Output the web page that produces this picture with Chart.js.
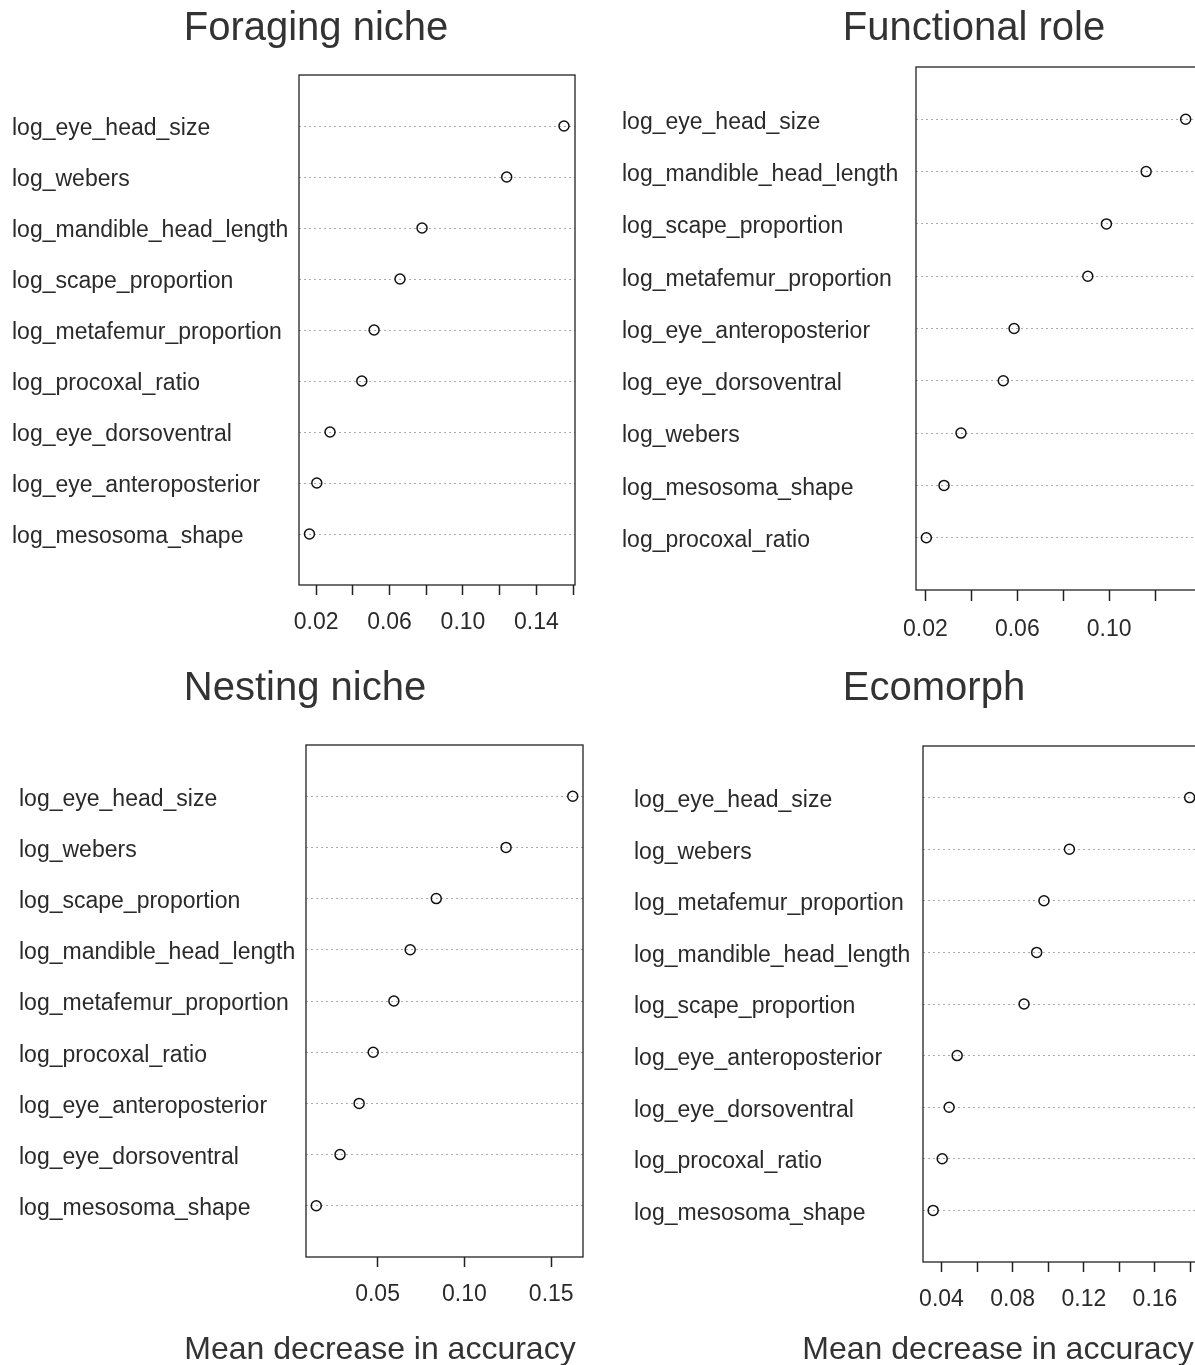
<!DOCTYPE html>
<html>
<head>
<meta charset="utf-8">
<script src="https://cdn.jsdelivr.net/npm/chart.js@4.4.1/dist/chart.umd.min.js"></script>
<style>
  html, body { margin: 0; padding: 0; width: 1195px; height: 1365px; overflow: hidden; background: #fff; }
  .panel { position: absolute; }
  .caption {
    position: absolute; top: 1329px; transform: translateX(-50%); white-space: nowrap;
    font-family: "Liberation Sans", Arial, sans-serif; font-size: 32px; color: #333; line-height: 38px;
  }
</style>
</head>
<body>
<div class="panel" style="left:12px;top:0px;width:608px;height:655px"><canvas id="foraging"></canvas></div>
<div class="panel" style="left:622px;top:0px;width:704px;height:660px"><canvas id="functional"></canvas></div>
<div class="panel" style="left:19px;top:640px;width:572px;height:687px"><canvas id="nesting"></canvas></div>
<div class="panel" style="left:634px;top:640px;width:600px;height:692px"><canvas id="ecomorph"></canvas></div>
<div class="caption" style="left:380px">Mean decrease in accuracy</div>
<div class="caption" style="left:998px">Mean decrease in accuracy</div>

<script>
// variables listed top to bottom, as in each panel
const foragingVars = ["log_eye_head_size", "log_webers", "log_mandible_head_length", "log_scape_proportion",
  "log_metafemur_proportion", "log_procoxal_ratio", "log_eye_dorsoventral", "log_eye_anteroposterior", "log_mesosoma_shape"];
const foragingValues = [0.155, 0.1238, 0.0777, 0.0657, 0.0516, 0.0449, 0.0276, 0.0204, 0.0164];
const foragingTicks = [0.02, 0.04, 0.06, 0.08, 0.10, 0.12, 0.14, 0.16];
const foragingTickLabels = ["0.02", "", "0.06", "", "0.10", "", "0.14", ""];

const functionalVars = ["log_eye_head_size", "log_mandible_head_length", "log_scape_proportion", "log_metafemur_proportion",
  "log_eye_anteroposterior", "log_eye_dorsoventral", "log_webers", "log_mesosoma_shape", "log_procoxal_ratio"];
const functionalValues = [0.1333, 0.1161, 0.0988, 0.0907, 0.0586, 0.0539, 0.0355, 0.0281, 0.0204];
const functionalTicks = [0.02, 0.04, 0.06, 0.08, 0.10, 0.12];
const functionalTickLabels = ["0.02", "", "0.06", "", "0.10", ""];

const nestingVars = ["log_eye_head_size", "log_webers", "log_scape_proportion", "log_mandible_head_length",
  "log_metafemur_proportion", "log_procoxal_ratio", "log_eye_anteroposterior", "log_eye_dorsoventral", "log_mesosoma_shape"];
const nestingValues = [0.1624, 0.1240, 0.0838, 0.0688, 0.0594, 0.0475, 0.0394, 0.0284, 0.0147];
const nestingTicks = [0.05, 0.10, 0.15];
const nestingTickLabels = ["0.05", "0.10", "0.15"];

const ecomorphVars = ["log_eye_head_size", "log_webers", "log_metafemur_proportion", "log_mandible_head_length",
  "log_scape_proportion", "log_eye_anteroposterior", "log_eye_dorsoventral", "log_procoxal_ratio", "log_mesosoma_shape"];
const ecomorphValues = [0.1795, 0.1119, 0.0976, 0.0935, 0.0864, 0.0488, 0.0443, 0.0404, 0.0353];
const ecomorphTicks = [0.04, 0.06, 0.08, 0.10, 0.12, 0.14, 0.16, 0.18];
const ecomorphTickLabels = ["0.04", "", "0.08", "", "0.12", "", "0.16", ""];

const FONT = "'Liberation Sans', Arial, sans-serif";
const TEXT = "#2a2a2a";

// draws the R-style box round the plot region
const boxPlugin = {
  id: "box",
  afterDraw(chart) {
    const { ctx, chartArea } = chart;
    ctx.save();
    ctx.strokeStyle = "#222";
    ctx.lineWidth = 1.3;
    ctx.strokeRect(chartArea.left, chartArea.top, chartArea.right - chartArea.left, chartArea.bottom - chartArea.top);
    ctx.restore();
  },
};

const makePanel = (id, p) => {
  new Chart(document.getElementById(id), {
    type: "scatter",
    data: {
      datasets: [
        {
          data: p.values.map((v, i) => ({ x: v, y: i + 1 })),
          pointStyle: "circle",
          pointRadius: 5,
          pointBorderWidth: 1.5,
          borderColor: "#111",
          backgroundColor: "rgba(0,0,0,0)",
          showLine: false,
        },
      ],
    },
    options: {
      responsive: true,
      maintainAspectRatio: false,
      animation: false,
      layout: { padding: 0 },
      plugins: {
        legend: { display: false },
        tooltip: { enabled: false },
        title: {
          display: true,
          text: p.title,
          color: "#333",
          font: { family: FONT, size: 40, weight: "normal" },
          padding: { top: p.titleTop, bottom: p.titleBottom },
        },
      },
      scales: {
        x: {
          type: "linear",
          min: p.xMin,
          max: p.xMax,
          afterBuildTicks: (axis) => {
            axis.ticks = p.ticks.map((v) => ({ value: v }));
          },
          afterFit: (axis) => {
            axis.height = 70;
          },
          grid: { drawOnChartArea: false, drawTicks: true, tickLength: p.tickLength, tickColor: "#222", tickWidth: 1.5 },
          border: { display: false },
          ticks: {
            autoSkip: false,
            maxRotation: 0,
            padding: p.tickPad,
            color: TEXT,
            font: { family: FONT, size: 23 },
            callback: (value, index) => p.tickLabels[index],
          },
        },
        y: {
          type: "linear",
          min: 0,
          max: 10,
          reverse: true,
          afterBuildTicks: (axis) => {
            axis.ticks = p.vars.map((_, i) => ({ value: i + 1 }));
          },
          afterFit: (axis) => {
            axis.width = p.yWidth;
          },
          grid: { drawTicks: false, color: "#aaa", lineWidth: 1 },
          border: { display: false, dash: [2, 3] },
          ticks: {
            autoSkip: false,
            crossAlign: "far",
            labelOffset: 3,
            color: TEXT,
            font: { family: FONT, size: 23 },
            callback: (value) => p.vars[value - 1] || "",
          },
        },
        spacer: {
          type: "linear",
          position: "right",
          grid: { display: false },
          border: { display: false },
          ticks: { display: false },
          afterFit: (axis) => {
            axis.width = p.rightGap;
          },
        },
      },
    },
    plugins: [boxPlugin],
  });
};

makePanel("foraging", {
  title: "Foraging niche", vars: foragingVars, values: foragingValues,
  ticks: foragingTicks, tickLabels: foragingTickLabels, xMin: 0.0107, xMax: 0.161,
  titleTop: 5, titleBottom: 22, yWidth: 287, rightGap: 45, tickLength: 10, tickPad: 14,
});

makePanel("functional", {
  title: "Functional role", vars: functionalVars, values: functionalValues,
  ticks: functionalTicks, tickLabels: functionalTickLabels, xMin: 0.0159, xMax: 0.1378,
  titleTop: 5, titleBottom: 14, yWidth: 294, rightGap: 130, tickLength: 11, tickPad: 15,
});

makePanel("nesting", {
  title: "Nesting niche", vars: nestingVars, values: nestingValues,
  ticks: nestingTicks, tickLabels: nestingTickLabels, xMin: 0.0088, xMax: 0.1683,
  titleTop: 25, titleBottom: 32, yWidth: 287, rightGap: 8, tickLength: 10, tickPad: 14,
});

makePanel("ecomorph", {
  title: "Ecomorph", vars: ecomorphVars, values: ecomorphValues,
  ticks: ecomorphTicks, tickLabels: ecomorphTickLabels, xMin: 0.0296, xMax: 0.1853,
  titleTop: 25, titleBottom: 33, yWidth: 289, rightGap: 34, tickLength: 10, tickPad: 14,
});
</script>
</body>
</html>
